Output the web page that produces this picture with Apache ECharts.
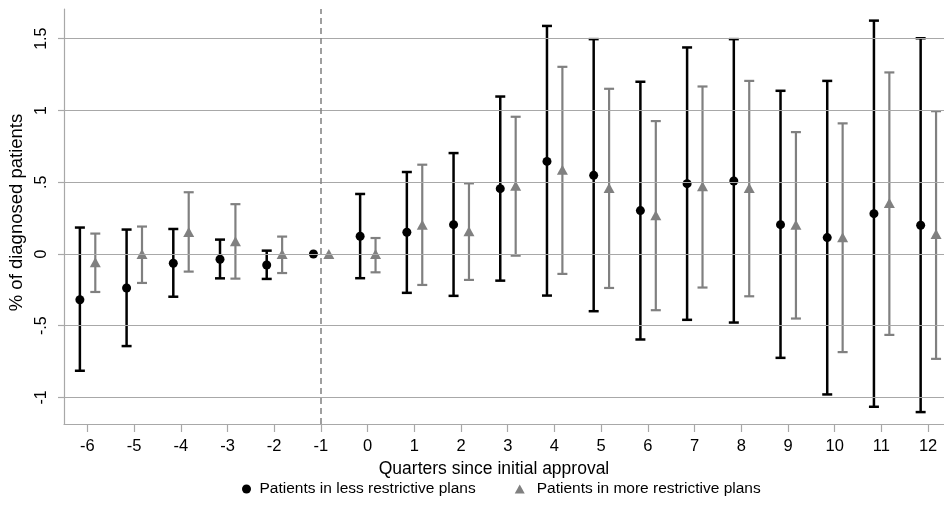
<!DOCTYPE html>
<html>
<head>
<meta charset="utf-8">
<script src="https://cdn.jsdelivr.net/npm/echarts@6/dist/echarts.min.js"></script>
<style>html,body{margin:0;padding:0;background:#fff}#c{width:944px;height:520px}</style>
</head>
<body>
<div id="c"></div>
<script>
const quarters = [-6,-5,-4,-3,-2,-1,0,1,2,3,4,5,6,7,8,9,10,11,12];
const lessPt = [-0.319,-0.237,-0.065,-0.037,-0.077,0,0.123,0.151,0.204,0.455,0.645,0.548,0.302,0.490,0.508,0.204,0.114,0.281,0.200];
const lessLo = [-0.814,-0.642,-0.298,-0.170,-0.174,null,-0.169,-0.271,-0.292,-0.186,-0.290,-0.399,-0.596,-0.459,-0.478,-0.724,-0.979,-1.065,-1.102];
const lessHi = [0.184,0.170,0.174,0.100,0.023,null,0.418,0.571,0.703,1.097,1.589,1.497,1.200,1.439,1.497,1.137,1.206,1.626,1.503];
const morePt = [-0.058,0,0.153,0.088,0,0,0,0.204,0.158,0.476,0.587,0.459,0.269,0.471,0.459,0.204,0.116,0.355,0.139];
const moreLo = [-0.265,-0.202,-0.123,-0.172,-0.133,null,-0.128,-0.216,-0.181,-0.012,-0.139,-0.237,-0.392,-0.234,-0.295,-0.450,-0.684,-0.564,-0.731];
const moreHi = [0.142,0.191,0.430,0.347,0.121,null,0.111,0.622,0.492,0.956,1.304,1.151,0.926,1.167,1.206,0.849,0.910,1.265,0.995];
const yTicks = [-1,-0.5,0,0.5,1,1.5];
const yTickLabels = ['-1','-.5','0','.5','1','1.5'];
const names = ['Patients in less restrictive plans','Patients in more restrictive plans'];

const BLACK = '#000000', GRAY = '#808080', GRID = '#a8a8a8';
const offL = -0.16, offM = 0.17;
const FONT = 'Liberation Sans, Arial, sans-serif';

function errData(off, lo, hi) {
  const out = [];
  quarters.forEach((q, i) => { if (lo[i] != null) out.push([q + off, lo[i], hi[i]]); });
  return out;
}
function errRender(color, lw) {
  return function (params, api) {
    const x = api.value(0), lo = api.value(1), hi = api.value(2);
    const p1 = api.coord([x, lo]), p2 = api.coord([x, hi]);
    const cw = 5;
    const st = { stroke: color, lineWidth: lw };
    return { type: 'group', children: [
      { type: 'line', shape: { x1: p1[0], y1: p1[1], x2: p2[0], y2: p2[1] }, style: st },
      { type: 'line', shape: { x1: p1[0] - cw, y1: p1[1], x2: p1[0] + cw, y2: p1[1] }, style: st },
      { type: 'line', shape: { x1: p2[0] - cw, y1: p2[1], x2: p2[0] + cw, y2: p2[1] }, style: st }
    ] };
  };
}

const chart = echarts.init(document.getElementById('c'), null, { renderer: 'canvas' });
chart.setOption({
  animation: false,
  textStyle: { fontFamily: FONT },
  grid: { left: 64, right: 0, top: 9, bottom: 96, containLabel: false, outerBoundsMode: 'none' },
  legend: {
    left: 237, top: 476, itemGap: 39, itemWidth: 16, itemHeight: 9, symbolKeepAspect: true,
    textStyle: { fontSize: 15.5, color: '#000', fontFamily: FONT },
    data: [
      { name: names[0], icon: 'circle' },
      { name: names[1], icon: 'path://M0,9L5,0L10,9Z', textStyle: { padding: [0, 0, 0, 4] } }
    ]
  },
  xAxis: {
    type: 'value', min: -6.5, max: 12.34,
    name: 'Quarters since initial approval', nameLocation: 'middle', nameGap: 28,
    nameTextStyle: { fontSize: 17.5, color: '#000', fontFamily: FONT, padding: [0, 20, 0, 0] },
    axisLine: { show: true, onZero: false, lineStyle: { color: GRID, width: 1.2 } },
    axisTick: { show: true, length: 8, customValues: quarters, lineStyle: { color: GRID, width: 1.2 } },
    axisLabel: { customValues: quarters, fontSize: 16.5, color: '#000', margin: 14, fontFamily: FONT },
    splitLine: { show: false }
  },
  yAxis: {
    type: 'value', min: -1.185, max: 1.707,
    name: '% of diagnosed patients', nameLocation: 'middle', nameGap: 33, nameRotate: 90,
    nameTextStyle: { fontSize: 18.5, color: '#000', fontFamily: FONT, padding: [0, 0, 0, 8] },
    axisLine: { show: true, onZero: false, lineStyle: { color: GRID, width: 1.2 } },
    axisTick: { show: true, length: 6, customValues: yTicks, lineStyle: { color: GRID, width: 1.2 } },
    axisLabel: {
      customValues: yTicks, rotate: 90, fontSize: 16, color: '#000', margin: 14, fontFamily: FONT,
      formatter: v => { const i = yTicks.findIndex(t => Math.abs(t - v) < 1e-6); return i >= 0 ? yTickLabels[i] : ''; }
    },
    splitLine: { show: false }
  },
  series: [
    {
      type: 'custom', name: 'gridlines', silent: true, data: [],
      renderItem: () => null,
      markLine: {
        silent: true, symbol: 'none', label: { show: false },
        lineStyle: { color: GRID, width: 1.2, type: 'solid' },
        data: yTicks.map(v => ({ yAxis: v }))
      },
      z: 1
    },
    {
      type: 'custom', name: 'vline', silent: true, data: [],
      renderItem: () => null,
      markLine: {
        silent: true, symbol: 'none', label: { show: false },
        lineStyle: { color: GRAY, width: 1.5, type: [6, 4] },
        data: [{ xAxis: -1 }]
      },
      z: 2
    },
    { type: 'custom', name: 'lessErr', data: errData(offL, lessLo, lessHi), renderItem: errRender(BLACK, 2.5), encode: { x: 0, y: [1, 2] }, z: 3 },
    { type: 'custom', name: 'moreErr', data: errData(offM, moreLo, moreHi), renderItem: errRender(GRAY, 2.2), encode: { x: 0, y: [1, 2] }, z: 3 },
    {
      type: 'scatter', name: names[0], symbol: 'circle', symbolSize: 9,
      itemStyle: { color: BLACK, opacity: 1 },
      data: quarters.map((q, i) => [q + offL, lessPt[i]]), z: 4
    },
    {
      type: 'scatter', name: names[1], symbol: 'triangle', symbolSize: [11, 10],
      itemStyle: { color: GRAY, opacity: 1 },
      data: quarters.map((q, i) => [q + offM, morePt[i]]), z: 4
    }
  ]
});
</script>
</body>
</html>
